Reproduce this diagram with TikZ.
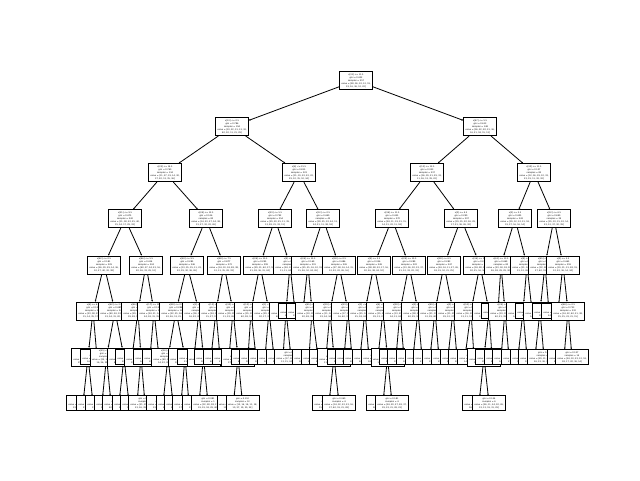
\documentclass[tikz,border=0pt]{standalone}
\usepackage{fontspec}
\setmainfont{DejaVu Sans}
\usetikzlibrary{arrows.meta}

\newcommand{\rnum}[2]{\pgfmathrandominteger{\rnumv}{#1}{#2}\rnumv}
\newcommand{\vrows}{value = [\rnum{10}{40}, \rnum{10}{40}, \rnum{10}{40}, \rnum{10}{40}, \rnum{10}{40},\\\rnum{10}{40}, \rnum{10}{40}, \rnum{10}{40}, \rnum{10}{40}, \rnum{10}{40}]}
\newcommand{\splittxt}{x[\rnum{0}{63}] <= \rnum{0}{15}.5\\gini = 0.\rnum{100}{899}\\samples = \rnum{20}{400}\\\vrows}
\newcommand{\leaftxt}{gini = 0.\rnum{0}{499}\\samples = \rnum{1}{20}\\\vrows}
% node + connector from its parent, level gives the row
\newcommand{\inode}[4]{\node[split] (#2) at (#3,{80.5+46.1*#4}) {\splittxt}; \draw[edge] (#1) -- (#2);}
\newcommand{\lnode}[4]{\node[leaf] (#2) at (#3,{80.5+46.1*#4}) {\leaftxt}; \draw[edge] (#1) -- (#2);}

\tikzset{
  split/.style={draw, fill=white, line width=0.8pt, text width=31pt, align=center,
    inner xsep=1pt, inner ysep=1.5pt, minimum height=18pt,
    font=\fontsize{2.1}{3}\selectfont},
  leaf/.style={split, minimum height=15pt},
  edge/.style={line width=0.8pt, -{Stealth[length=1.6pt,width=1.6pt]}}
}

\begin{document}
\begin{tikzpicture}[x=1pt,y=-1pt]
\useasboundingbox (0,0) rectangle (640,480);
\pgfmathsetseed{1347}
\node[split] (t) at (356,80.5) {\splittxt};
% left half
\inode{t}{tL}{232}{1}
\inode{tL}{tLL}{165}{2}
\inode{tLL}{tLLL}{125}{3}
\inode{tLLL}{tLLLL}{104}{4}
\inode{tLLLL}{tLLLLL}{93}{5}
\inode{tLLLLL}{tLLLLLL}{88}{6}
\lnode{tLLLLLL}{tLLLLLLL}{83}{7}
\lnode{tLLLLLL}{tLLLLLLR}{93}{7}
\lnode{tLLLLL}{tLLLLLR}{97}{6}
\inode{tLLLL}{tLLLLR}{115}{5}
\inode{tLLLLR}{tLLLLRL}{106.5}{6}
\lnode{tLLLLRL}{tLLLLRLL}{102}{7}
\lnode{tLLLLRL}{tLLLLRLR}{111}{7}
\inode{tLLLLR}{tLLLLRR}{124}{6}
\lnode{tLLLLRR}{tLLLLRRL}{119}{7}
\lnode{tLLLLRR}{tLLLLRRR}{129}{7}
\inode{tLLL}{tLLLR}{146}{4}
\inode{tLLLR}{tLLLRL}{138}{5}
\lnode{tLLLRL}{tLLLRLL}{132}{6}
\inode{tLLLRL}{tLLLRLR}{141}{6}
\lnode{tLLLRLR}{tLLLRLRL}{137}{7}
\lnode{tLLLRLR}{tLLLRLRR}{145}{7}
\inode{tLLLR}{tLLLRR}{154}{5}
\lnode{tLLLRR}{tLLLRRL}{150}{6}
\lnode{tLLLRR}{tLLLRRR}{159}{6}
\inode{tLL}{tLLR}{206}{3}
\inode{tLLR}{tLLRL}{187}{4}
\inode{tLLRL}{tLLRLL}{176}{5}
\inode{tLLRLL}{tLLRLLL}{168}{6}
\lnode{tLLRLLL}{tLLRLLLL}{163}{7}
\lnode{tLLRLLL}{tLLRLLLR}{173}{7}
\inode{tLLRLL}{tLLRLLR}{185}{6}
\lnode{tLLRLLR}{tLLRLLRL}{181}{7}
\lnode{tLLRLLR}{tLLRLLRR}{189}{7}
\inode{tLLRL}{tLLRLR}{199}{5}
\lnode{tLLRLR}{tLLRLRL}{194}{6}
\inode{tLLRLR}{tLLRLRR}{203.5}{6}
\lnode{tLLRLRR}{tLLRLRRL}{199}{7}
\lnode{tLLRLRR}{tLLRLRRR}{208}{7}
\inode{tLLR}{tLLRR}{224}{4}
\inode{tLLRR}{tLLRRL}{216}{5}
\lnode{tLLRRL}{tLLRRLL}{211}{6}
\lnode{tLLRRL}{tLLRRLR}{220}{6}
\inode{tLLRR}{tLLRRR}{233}{5}
\lnode{tLLRRR}{tLLRRRL}{229}{6}
\inode{tLLRRR}{tLLRRRR}{238}{6}
\lnode{tLLRRRR}{tLLRRRRL}{233.5}{7}
\lnode{tLLRRRR}{tLLRRRRR}{242.5}{7}
\inode{tL}{tLR}{299}{2}
\inode{tLR}{tLRL}{275}{3}
\inode{tLRL}{tLRLL}{260}{4}
\inode{tLRLL}{tLRLLL}{251}{5}
\lnode{tLRLLL}{tLRLLLL}{248}{6}
\lnode{tLRLLL}{tLRLLLR}{256}{6}
\inode{tLRLL}{tLRLLR}{269}{5}
\lnode{tLRLLR}{tLRLLRL}{265}{6}
\lnode{tLRLLR}{tLRLLRR}{274}{6}
\inode{tLRL}{tLRLR}{290}{4}
\inode{tLRLR}{tLRLRL}{286}{5}
\lnode{tLRLRL}{tLRLRLL}{283}{6}
\lnode{tLRLRL}{tLRLRLR}{291}{6}
\lnode{tLRLR}{tLRLRR}{295}{5}
\inode{tLR}{tLRR}{323}{3}
\inode{tLRR}{tLRRL}{308}{4}
\lnode{tLRRL}{tLRRLL}{303}{5}
\inode{tLRRL}{tLRRLR}{312}{5}
\lnode{tLRRLR}{tLRRLRL}{309}{6}
\lnode{tLRRLR}{tLRRLRR}{318}{6}
\inode{tLRR}{tLRRR}{339}{4}
\inode{tLRRR}{tLRRRL}{330}{5}
\lnode{tLRRRL}{tLRRRLL}{326}{6}
\inode{tLRRRL}{tLRRRLR}{334}{6}
\lnode{tLRRRLR}{tLRRRLRL}{329}{7}
\lnode{tLRRRLR}{tLRRRLRR}{339}{7}
\inode{tLRRR}{tLRRRR}{348}{5}
\lnode{tLRRRR}{tLRRRRL}{344}{6}
\lnode{tLRRRR}{tLRRRRR}{352}{6}
% right half
\inode{t}{tR}{480}{1}
\inode{tR}{tRL}{427}{2}
\inode{tRL}{tRLL}{392}{3}
\inode{tRLL}{tRLLL}{374}{4}
\inode{tRLLL}{tRLLLL}{365}{5}
\lnode{tRLLLL}{tRLLLLL}{360}{6}
\lnode{tRLLLL}{tRLLLLR}{369}{6}
\inode{tRLLL}{tRLLLR}{383}{5}
\lnode{tRLLLR}{tRLLLRL}{378}{6}
\inode{tRLLLR}{tRLLLRR}{387.5}{6}
\lnode{tRLLLRR}{tRLLLRRL}{383}{7}
\lnode{tRLLLRR}{tRLLLRRR}{392}{7}
\inode{tRLL}{tRLLR}{409}{4}
\inode{tRLLR}{tRLLRL}{400}{5}
\lnode{tRLLRL}{tRLLRLL}{396}{6}
\lnode{tRLLRL}{tRLLRLR}{404}{6}
\inode{tRLLR}{tRLLRR}{418}{5}
\lnode{tRLLRR}{tRLLRRL}{413}{6}
\lnode{tRLLRR}{tRLLRRR}{422}{6}
\inode{tRL}{tRLR}{461}{3}
\inode{tRLR}{tRLRL}{444}{4}
\inode{tRLRL}{tRLRLL}{435}{5}
\lnode{tRLRLL}{tRLRLLL}{430}{6}
\lnode{tRLRLL}{tRLRLLR}{439}{6}
\inode{tRLRL}{tRLRLR}{453}{5}
\lnode{tRLRLR}{tRLRLRL}{448}{6}
\lnode{tRLRLR}{tRLRLRR}{457}{6}
\inode{tRLR}{tRLRR}{480}{4}
\inode{tRLRR}{tRLRRL}{471}{5}
\lnode{tRLRRL}{tRLRRLL}{465}{6}
\lnode{tRLRRL}{tRLRRLR}{474}{6}
\inode{tRLRR}{tRLRRR}{489}{5}
\inode{tRLRRR}{tRLRRRL}{484}{6}
\lnode{tRLRRRL}{tRLRRRLL}{479}{7}
\lnode{tRLRRRL}{tRLRRRLR}{489}{7}
\lnode{tRLRRR}{tRLRRRR}{492}{6}
\inode{tR}{tRR}{534}{2}
\inode{tRR}{tRRL}{515}{3}
\inode{tRRL}{tRRLL}{501}{4}
\lnode{tRRLL}{tRRLLL}{498}{5}
\inode{tRRLL}{tRRLLR}{505}{5}
\lnode{tRRLLR}{tRRLLRL}{501}{6}
\lnode{tRRLLR}{tRRLLRR}{509}{6}
\inode{tRRL}{tRRLR}{527}{4}
\inode{tRRLR}{tRRLRL}{523}{5}
\lnode{tRRLRL}{tRRLRLL}{518}{6}
\lnode{tRRLRL}{tRRLRLR}{527}{6}
\lnode{tRRLR}{tRRLRR}{532}{5}
\inode{tRR}{tRRR}{554}{3}
\inode{tRRR}{tRRRL}{545}{4}
\inode{tRRRL}{tRRRLL}{540}{5}
\lnode{tRRRLL}{tRRRLLL}{535}{6}
\lnode{tRRRLL}{tRRRLLR}{544}{6}
\lnode{tRRRL}{tRRRLR}{549}{5}
\inode{tRRR}{tRRRR}{563}{4}
\lnode{tRRRR}{tRRRRL}{558}{5}
\inode{tRRRR}{tRRRRR}{568}{5}
\lnode{tRRRRR}{tRRRRRL}{564}{6}
\lnode{tRRRRR}{tRRRRRR}{572}{6}
\end{tikzpicture}
\end{document}
